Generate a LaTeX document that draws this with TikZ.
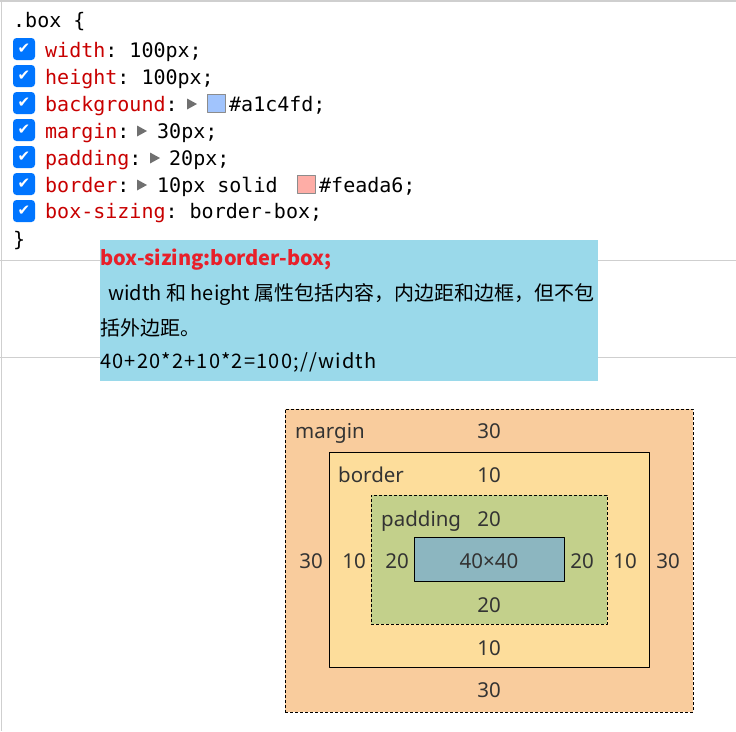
\documentclass[tikz,border=0pt]{standalone}
\usepackage{fontspec}
\setmainfont{Noto Sans}
\setmonofont{DejaVu Sans Mono}
\newfontfamily\cjk{Noto Sans CJK SC}
\newfontfamily\symb{DejaVu Sans}

\definecolor{propred}{RGB}{200,0,0}
\definecolor{titlered}{RGB}{232,32,42}
\definecolor{cbblue}{RGB}{0,117,255}
\definecolor{trigray}{RGB}{112,112,112}
\definecolor{swatchgray}{RGB}{140,140,140}
\definecolor{rulegray}{RGB}{207,207,207}
\definecolor{notebg}{RGB}{154,217,234}
\definecolor{lblgray}{RGB}{51,51,51}
\definecolor{marginfill}{RGB}{249,204,157}
\definecolor{borderfill}{RGB}{253,221,155}
\definecolor{paddingfill}{RGB}{195,208,139}
\definecolor{contentfill}{RGB}{140,182,192}
\definecolor{bgswatch}{HTML}{A1C4FD}
\definecolor{bdswatch}{HTML}{FEADA6}

\newcommand\cssprop[1]{\textcolor{propred}{#1}}

\begin{document}
\begin{tikzpicture}[x=1pt,y=-1pt,line join=round,
    code/.style={anchor=base west,inner sep=0pt,text=black,font=\ttfamily\fontsize{20}{24}\selectfont},
    checkbox/.style={fill=cbblue,rounded corners=3.5pt,minimum size=22pt,inner sep=0pt,text=white,font=\symb\fontsize{15}{15}\selectfont},
    swatch/.style={draw=swatchgray,line width=1pt,minimum size=18pt,inner sep=0pt},
    tri/.style={fill=trigray},
    notetext/.style={anchor=base west,inner sep=0pt,text=black,font=\cjk\fontsize{20}{24}\selectfont},
    lbl/.style={anchor=base,inner sep=0pt,text=lblgray,font=\fontsize{20.5}{24}\selectfont},
    layer/.style={line width=1pt,inner sep=0pt}]
            \useasboundingbox (0,0) rectangle (736,731);

            % page rules
            \draw [rulegray,line width=1.5pt] (0,1) -- (736,1);
            \draw [rulegray,line width=1.5pt] (1.5,0) -- (1.5,731);
            \draw [rulegray,line width=1pt] (0,260) -- (736,260);
            \draw [rulegray,line width=1pt] (0,357.5) -- (736,357.5);

            % css rule
            \node [code] (selector) at (13,27) {.box \{};
            \node [checkbox] (cbWidth) at (24,49) {✔};
            \node [code] (width) at (45,57) {\cssprop{width}: 100px;};
            \node [checkbox] (cbHeight) at (24,76) {✔};
            \node [code] (height) at (45,84) {\cssprop{height}: 100px;};
            \node [checkbox] (cbBackground) at (24,103) {✔};
            \node [code] (background) at (45,111) {\cssprop{background}:};
            \fill [tri] (187,98.5) -- (187,109.5) -- (197,104) -- cycle;
            \node [swatch,fill=bgswatch] (bgColor) at (216.5,103) {};
            \node [code] (bgValue) at (229,111) {\#a1c4fd;};
            \node [checkbox] (cbMargin) at (24,130) {✔};
            \node [code] (margin) at (45,138) {\cssprop{margin}:};
            \fill [tri] (137,125.5) -- (137,136.5) -- (147,131) -- cycle;
            \node [code] (marginValue) at (157,138) {30px;};
            \node [checkbox] (cbPadding) at (24,157) {✔};
            \node [code] (padding) at (45,165) {\cssprop{padding}:};
            \fill [tri] (150,152.5) -- (150,163.5) -- (160,158) -- cycle;
            \node [code] (paddingValue) at (169,165) {20px;};
            \node [checkbox] (cbBorder) at (24,184) {✔};
            \node [code] (border) at (45,192) {\cssprop{border}:};
            \fill [tri] (137,179.5) -- (137,190.5) -- (147,185) -- cycle;
            \node [code] (borderValue) at (157,192) {10px solid};
            \node [swatch,fill=bdswatch] (bdColor) at (306,184) {};
            \node [code] (bdValue) at (319,192) {\#feada6;};
            \node [checkbox] (cbSizing) at (24,211) {✔};
            \node [code] (sizing) at (45,218) {\cssprop{box-sizing}: border-box;};
            \node [code] (closing) at (13,246) {\}};

            % note
            \node [fill=notebg,inner sep=0pt,minimum width=498pt,minimum height=141pt] (note) at (349,310.5) {};
            \node [notetext,text=titlered,font=\cjk\bfseries\fontsize{20}{24}\selectfont] (noteTitle) at (100,265) {box-sizing:border-box;};
            \node [notetext] (noteLineA) at (108,300) {width 和 height 属性包括内容，内边距和边框，但不包};
            \node [notetext] (noteLineB) at (100,335) {括外边距。};
            \node [notetext,font=\cjk\fontsize{20}{24}\addfontfeatures{LetterSpace=6}\selectfont] (noteLineC) at (100,368) {40+20*2+10*2=100;//width};

            % box model
            \node [layer,draw,dash pattern=on 3pt off 2pt,fill=marginfill,minimum width=408pt,minimum height=303pt] (marginBox) at (489,560.5) {};
            \node [layer,draw,fill=borderfill,minimum width=320pt,minimum height=215pt] (borderBox) at (489,559.5) {};
            \node [layer,draw,dash pattern=on 3pt off 2pt,fill=paddingfill,minimum width=236pt,minimum height=129pt] (paddingBox) at (489,559.5) {};
            \node [layer,draw,fill=contentfill,minimum width=150pt,minimum height=44pt] (contentBox) at (489,559) {};

            \node [lbl,anchor=base west] (marginName) at (295,438) {margin};
            \node [lbl] (marginTop) at (489,438) {30};
            \node [lbl,anchor=base west] (borderName) at (338,482) {border};
            \node [lbl] (borderTop) at (489,482) {10};
            \node [lbl,anchor=base west] (paddingName) at (381,526) {padding};
            \node [lbl] (paddingTop) at (489,526) {20};
            \node [lbl] (marginLeft) at (311,568) {30};
            \node [lbl] (borderLeft) at (354,568) {10};
            \node [lbl] (paddingLeft) at (397,568) {20};
            \node [lbl] (contentSize) at (489,568) {40×40};
            \node [lbl] (paddingRight) at (582,568) {20};
            \node [lbl] (borderRight) at (625,568) {10};
            \node [lbl] (marginRight) at (668,568) {30};
            \node [lbl] (paddingBottom) at (489,612) {20};
            \node [lbl] (borderBottom) at (489,655) {10};
            \node [lbl] (marginBottom) at (489,697) {30};
\end{tikzpicture}
\end{document}
